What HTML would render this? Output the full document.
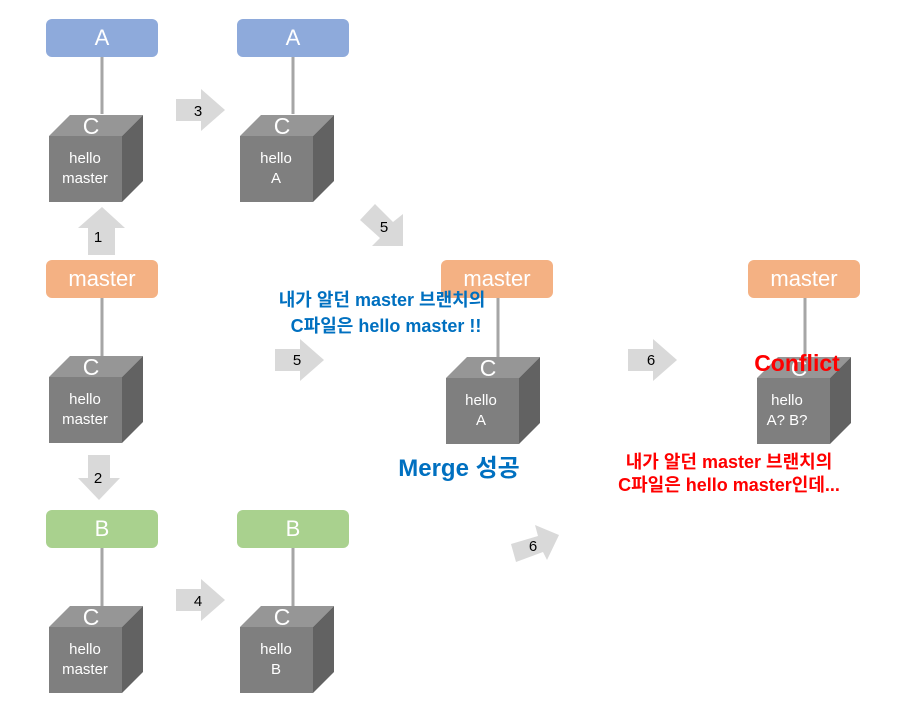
<!DOCTYPE html>
<html><head><meta charset="utf-8"><style>
html,body{margin:0;padding:0;background:#fff;}
svg{display:block;font-family:"Liberation Sans","Noto Sans CJK KR",sans-serif;}
</style></head><body>
<svg width="902" height="719" viewBox="0 0 902 719" xmlns="http://www.w3.org/2000/svg">
<defs>
<g id="cube">
<rect x="0" y="0" width="73" height="66" fill="#7f7f7f"/>
<polygon points="0,0 21,-21 94,-21 73,0" fill="#969696"/>
<polygon points="73,0 94,-21 94,45 73,66" fill="#626262"/>
<text x="42" y="-2" font-size="23" fill="#fff" text-anchor="middle">C</text>
</g>
</defs>
<g stroke="#a6a6a6" stroke-width="3">
<line x1="102" y1="57" x2="102" y2="114"/>
<line x1="293" y1="57" x2="293" y2="114"/>
<line x1="102" y1="298" x2="102" y2="356"/>
<line x1="102" y1="548" x2="102" y2="606"/>
<line x1="293" y1="548" x2="293" y2="606"/>
<line x1="498" y1="298" x2="498" y2="357"/>
<line x1="805" y1="298" x2="805" y2="357"/>
</g>
<g font-size="22" fill="#fff" text-anchor="middle">
<rect x="46" y="19" width="112" height="38" rx="6" fill="#8eaadb"/><text x="102" y="45">A</text>
<rect x="237" y="19" width="112" height="38" rx="6" fill="#8eaadb"/><text x="293" y="45">A</text>
<rect x="46" y="260" width="112" height="38" rx="6" fill="#f4b183"/><text x="102" y="286">master</text>
<rect x="46" y="510" width="112" height="38" rx="6" fill="#a9d18e"/><text x="102" y="536">B</text>
<rect x="237" y="510" width="112" height="38" rx="6" fill="#a9d18e"/><text x="293" y="536">B</text>
<rect x="441" y="260" width="112" height="38" rx="6" fill="#f4b183"/><text x="497" y="286">master</text>
<rect x="748" y="260" width="112" height="38" rx="6" fill="#f4b183"/><text x="804" y="286">master</text>
</g>
<use href="#cube" x="49" y="136"/>
<use href="#cube" x="240" y="136"/>
<use href="#cube" x="49" y="377"/>
<use href="#cube" x="49" y="627"/>
<use href="#cube" x="240" y="627"/>
<use href="#cube" x="446" y="378"/>
<use href="#cube" x="757" y="378"/>
<g font-size="15" fill="#fff" text-anchor="middle">
<text x="85" y="163">hello</text><text x="85" y="183">master</text>
<text x="276" y="163">hello</text><text x="276" y="183">A</text>
<text x="85" y="404">hello</text><text x="85" y="424">master</text>
<text x="85" y="654">hello</text><text x="85" y="674">master</text>
<text x="276" y="654">hello</text><text x="276" y="674">B</text>
<text x="481" y="405">hello</text><text x="481" y="425">A</text>
<text x="787" y="405">hello</text><text x="787" y="425">A? B?</text>
</g>
<g fill="#d9d9d9">
<polygon points="176,99 201,99 201,89 225,110 201,131 201,121 176,121"/>
<polygon points="176,589 201,589 201,579 225,600 201,621 201,611 176,611"/>
<polygon points="275,349 300,349 300,339 324,360 300,381 300,371 275,371"/>
<polygon points="628,349 653,349 653,339 677,360 653,381 653,371 628,371"/>
<polygon points="88,255 88,228 78,228 102,207 125,228 115,228 115,255"/>
<polygon points="88,455 88,478 78,478 99,500 120,478 110,478 110,455"/>
<polygon points="375,204 393,222 403,214 403,246 372,246 380,238 360,220"/>
<polygon points="511,544 538,536 535,525 559,535 547,560 543,552 516,562"/>
</g>
<g font-size="15" fill="#000" text-anchor="middle">
<text x="198" y="116">3</text><text x="198" y="606">4</text>
<text x="297" y="365">5</text><text x="651" y="365">6</text>
<text x="98" y="242">1</text><text x="98" y="483">2</text>
<text x="384" y="232">5</text><text x="533" y="551">6</text>
</g>
<g font-weight="bold" text-anchor="middle">
<text x="382" y="306" font-size="18" fill="#0070c0">내가 알던 master 브랜치의</text>
<text x="386" y="332" font-size="18" fill="#0070c0">C파일은 hello master !!</text>
<text x="459" y="476" font-size="24" fill="#0070c0">Merge 성공</text>
<text x="729" y="468" font-size="18" fill="#ff0000">내가 알던 master 브랜치의</text>
<text x="729" y="491" font-size="18" fill="#ff0000">C파일은 hello master인데...</text>
<text x="797" y="371" font-size="23" fill="#ff0000">Conflict</text>
</g>
</svg>
</body></html>
